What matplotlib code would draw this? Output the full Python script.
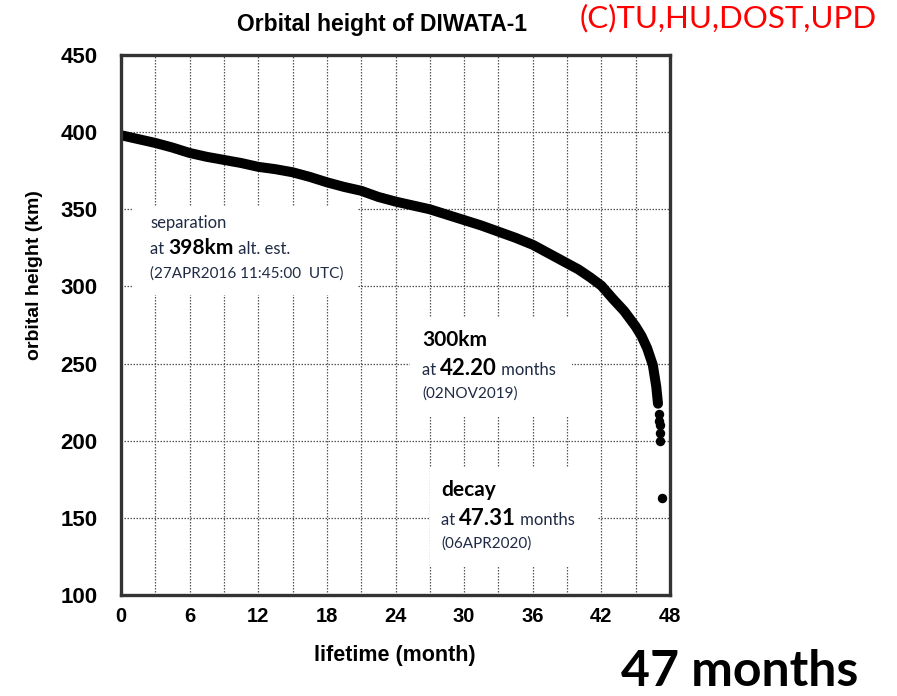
import matplotlib
matplotlib.use("Agg")
import matplotlib.pyplot as plt
from matplotlib import font_manager
from matplotlib.patches import Rectangle

# ---- data ----
months = [0, 1.5, 3, 4.5, 6, 7.5, 9, 10.5, 12, 13.5, 15, 16.5, 18, 19.5, 21, 22.5, 24,
          25.5, 27, 28.5, 30, 31.5, 33, 34.5, 36, 37.5, 38.5, 40, 41, 42, 43, 44, 45,
          45.5, 46, 46.5, 46.8, 46.95]
height_km = [398, 395.5, 393, 390, 386.5, 384, 382, 380, 377.5, 376, 374, 371, 367.5, 364.5,
             362, 358, 355, 352.5, 350, 346.5, 343, 339.5, 335.5, 331.5, 327, 321, 317, 311,
             306, 300.5, 292, 284, 274, 268, 260, 249, 235, 224]
tail_months = [47.0, 47.05, 47.1, 47.12, 47.15, 47.31]
tail_height = [217, 213, 210, 205, 200, 163]

x_ticks = [0, 6, 12, 18, 24, 30, 36, 42, 48]
y_ticks = [100, 150, 200, 250, 300, 350, 400, 450]

title = "Orbital height of DIWATA-1"
copyright_txt = "(C)TU,HU,DOST,UPD"
big_txt = "47 months"

W, H = 897, 696
fig = plt.figure(figsize=(W / 100, H / 100), dpi=100)
fig.patch.set_facecolor("white")

def fx(px):
    return px / W

def fy(py):
    return 1 - py / H

ax = fig.add_axes([fx(121), fy(595), fx(670) - fx(121), fy(55) - fy(595)])
ax.set_xlim(0, 48)
ax.set_ylim(100, 450)

names = {f.name for f in font_manager.fontManager.ttflist}
human = "Lato" if "Lato" in names else "DejaVu Sans"

# grid
for xv in range(3, 48, 3):
    ax.axvline(xv, color="#555555", lw=0.9, ls=(0, (1.2, 1.2)), zorder=1)
for yv in range(150, 450, 50):
    ax.axhline(yv, color="#555555", lw=0.9, ls=(0, (1.2, 1.2)), zorder=1)

# white boxes behind annotations
boxes = [(1.05, 294.5, 19.6, 57.0), (25.3, 215.4, 14.1, 64.2), (27.0, 118.2, 14.6, 64.8)]
for bx, by, bw, bh in boxes:
    ax.add_patch(Rectangle((bx, by), bw, bh, facecolor="white", edgecolor="none", zorder=2))

# data
ax.plot(months, height_km, color="black", lw=7.2, solid_capstyle="round",
        solid_joinstyle="round", zorder=5)
ax.plot(tail_months, tail_height, ls="none", marker="o", ms=5.8, color="black", zorder=5)

ax.set_xticks(x_ticks)
ax.set_yticks(y_ticks)
ax.tick_params(length=0)
for lab in ax.get_xticklabels():
    lab.set_fontfamily("Liberation Sans")
    lab.set_fontweight("bold")
    lab.set_fontsize(14.5)
for lab in ax.get_yticklabels():
    lab.set_fontfamily("Liberation Sans")
    lab.set_fontweight("bold")
    lab.set_fontsize(16)
ax.tick_params(axis="x", pad=9)
ax.tick_params(axis="y", pad=17)

for sp in ax.spines.values():
    sp.set_linewidth(2.4)
    sp.set_color("#333333")
    sp.set_zorder(6)

fig.text(fx(382), fy(25), title, ha="center", va="center", fontsize=16.5,
         fontweight="bold", family="Liberation Sans")
fig.text(fx(35), fy(275), "orbital height (km)", ha="center", va="center",
         rotation=90, fontsize=14, fontweight="bold", family="Liberation Sans")
fig.text(fx(395), fy(655), "lifetime (month)", ha="center", va="center",
         fontsize=15.5, fontweight="bold", family="Liberation Sans")
fig.text(fx(728), fy(18), copyright_txt, ha="center", va="center", fontsize=22.5,
         color="#ff0000", family=human)
fig.text(fx(740), fy(671), big_txt, ha="center", va="center", fontsize=36,
         fontweight="bold", family=human)

fig.canvas.draw()
renderer = fig.canvas.get_renderer()
navy = "#1f2a44"

def line(px, py, pieces):
    x = px
    for txt, size, bold in pieces:
        t = fig.text(fx(x), fy(py), txt, ha="left", va="baseline", fontsize=size,
                     fontweight="bold" if bold else "normal",
                     color="black" if bold else navy, family=human, zorder=7)
        bb = t.get_window_extent(renderer)
        x += bb.width

line(150, 228, [("separation", 12, False)])
line(150, 254, [("at ", 12, False), ("398km", 15, True), (" alt. est.", 12, False)])
line(150, 278, [("(27APR2016 11:45:00  UTC)", 11, False)])

line(422, 346, [("300km", 15, True)])
line(422, 375, [("at ", 12, False), ("42.20", 16, True), (" months", 12, False)])
line(422, 398, [("(02NOV2019)", 11, False)])

line(441, 496, [("decay", 15, True)])
line(441, 525, [("at ", 12, False), ("47.31", 16, True), (" months", 12, False)])
line(441, 548, [("(06APR2020)", 11, False)])

fig.savefig("out.png", dpi=100)
